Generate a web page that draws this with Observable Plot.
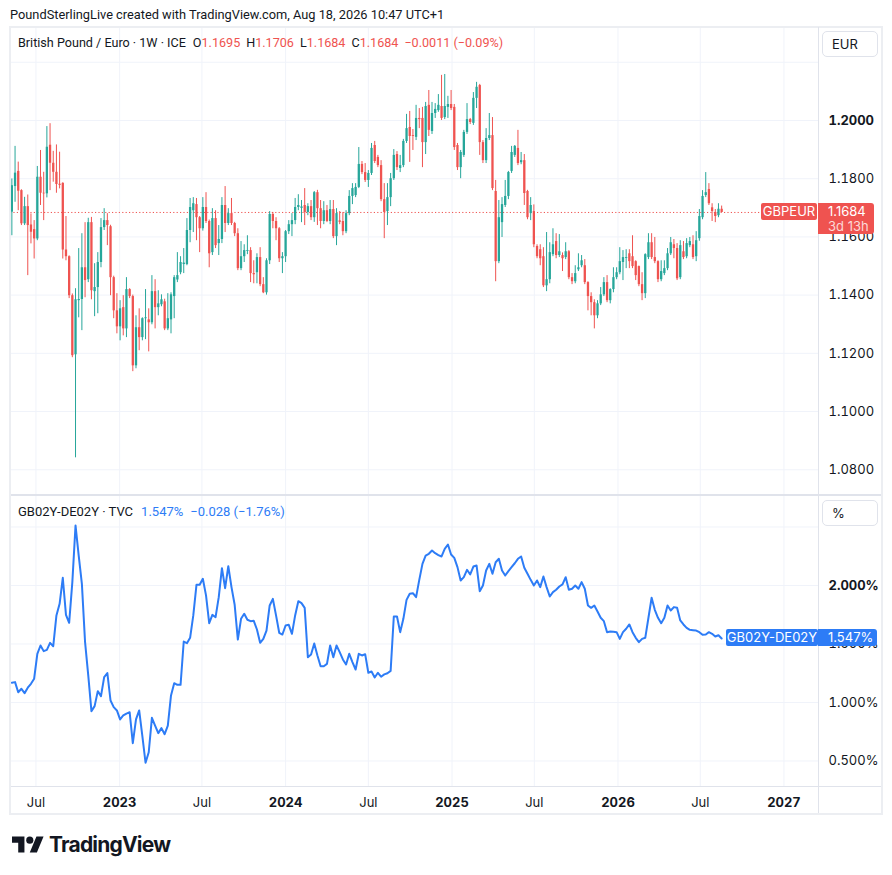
<!DOCTYPE html>
<html><head><meta charset="utf-8">
<script src="https://cdn.jsdelivr.net/npm/d3@7"></script>
<script src="https://cdn.jsdelivr.net/npm/@observablehq/plot@0.6"></script>
<style>
html,body{margin:0;padding:0;background:#fff;}
body{font-family:Roboto,Inter,"Noto Sans",sans-serif;color:#131722;}
#root{position:relative;width:892px;height:875px;overflow:hidden;}
.a{position:absolute;white-space:nowrap;}
.line{position:absolute;background:#e0e3eb;}
.box{position:absolute;border:1px solid #e0e3eb;border-radius:5px;box-sizing:border-box;font-family:Inter,sans-serif;font-size:13px;line-height:24px;padding-left:9px;}
.tag{position:absolute;color:#fff;font-family:Inter,sans-serif;font-size:13px;box-sizing:border-box;}
</style></head><body><div id="root"></div>
<script>
// ---------- data ----------
const firstWeek = "2022-05-09"; // weekly bars (Monday)
const open = [
1.1685,1.1773,1.1825,1.1759,1.1645,1.1704,1.1641,1.1625,1.1593,1.1805,
1.1750,1.1748,1.1915,1.1853,1.1822,1.1781,1.1784,1.1555,1.1532,1.1398,
1.1195,1.1381,1.1385,1.1494,1.1453,1.1649,1.1412,1.1426,1.1512,1.1632,
1.1656,1.1635,1.1460,1.1346,1.1291,1.1357,1.1284,1.1419,1.1395,1.1157,
1.1288,1.1254,1.1319,1.1315,1.1305,1.1412,1.1357,1.1367,1.1377,1.1284,
1.1315,1.1395,1.1452,1.1477,1.1505,1.1505,1.1622,1.1690,1.1711,1.1666,
1.1628,1.1701,1.1653,1.1546,1.1663,1.1577,1.1591,1.1708,1.1646,1.1680,
1.1646,1.1611,1.1491,1.1532,1.1550,1.1553,1.1474,1.1477,1.1529,1.1436,
1.1408,1.1518,1.1677,1.1653,1.1628,1.1525,1.1532,1.1618,1.1642,1.1656,
1.1701,1.1698,1.1708,1.1684,1.1704,1.1666,1.1752,1.1697,1.1653,1.1690,
1.1653,1.1694,1.1601,1.1655,1.1653,1.1618,1.1680,1.1739,1.1742,1.1770,
1.1849,1.1821,1.1794,1.1818,1.1914,1.1873,1.1845,1.1728,1.1687,1.1735,
1.1800,1.1883,1.1835,1.1845,1.1928,1.1976,1.1948,1.1942,1.2007,1.2007,
1.1924,1.2052,1.1962,1.2024,1.2034,1.2048,1.2010,1.2045,1.2055,1.2045,
1.1914,1.1838,1.1880,1.1959,1.2003,1.1990,1.2076,1.2120,1.1924,1.1862,
1.1938,1.1948,1.1756,1.1515,1.1649,1.1708,1.1739,1.1825,1.1880,1.1904,
1.1855,1.1862,1.1756,1.1680,1.1687,1.1567,1.1556,1.1532,1.1432,1.1453,
1.1539,1.1584,1.1536,1.1536,1.1529,1.1549,1.1460,1.1446,1.1487,1.1501,
1.1501,1.1443,1.1395,1.1374,1.1329,1.1370,1.1401,1.1443,1.1381,1.1419,
1.1460,1.1477,1.1512,1.1526,1.1542,1.1532,1.1515,1.1498,1.1436,1.1405,
1.1529,1.1580,1.1529,1.1515,1.1453,1.1474,1.1491,1.1542,1.1573,1.1560,
1.1460,1.1549,1.1532,1.1570,1.1573,1.1532,1.1594,1.1666,1.1742,1.1763,
1.1700,1.1684,1.1673,1.1695];
const high = [
1.1799,1.1911,1.1857,1.1762,1.1736,1.1744,1.1679,1.1656,1.1842,1.1897,
1.1822,1.1979,1.1989,1.1894,1.1916,1.1891,1.1786,1.1670,1.1535,1.1404,
1.1422,1.1560,1.1611,1.1649,1.1664,1.1667,1.1508,1.1546,1.1663,1.1697,
1.1680,1.1640,1.1465,1.1405,1.1381,1.1398,1.1460,1.1422,1.1400,1.1329,
1.1353,1.1322,1.1419,1.1353,1.1467,1.1453,1.1415,1.1401,1.1386,1.1405,
1.1408,1.1467,1.1546,1.1532,1.1560,1.1663,1.1732,1.1735,1.1732,1.1670,
1.1735,1.1752,1.1658,1.1697,1.1690,1.1639,1.1735,1.1773,1.1697,1.1732,
1.1650,1.1628,1.1584,1.1573,1.1604,1.1563,1.1518,1.1542,1.1563,1.1460,
1.1525,1.1687,1.1684,1.1666,1.1632,1.1546,1.1622,1.1656,1.1680,1.1732,
1.1745,1.1725,1.1766,1.1714,1.1725,1.1756,1.1760,1.1725,1.1721,1.1708,
1.1725,1.1725,1.1697,1.1687,1.1684,1.1690,1.1759,1.1783,1.1783,1.1907,
1.1859,1.1852,1.1828,1.1921,1.1928,1.1880,1.1862,1.1783,1.1783,1.1818,
1.1900,1.1893,1.1880,1.1935,1.2021,1.2031,1.1969,1.2052,1.2041,1.2045,
1.2062,1.2103,1.2062,1.2058,1.2089,1.2155,1.2158,1.2083,1.2103,1.2055,
1.1921,1.1897,1.1966,1.2058,1.2007,1.2096,1.2131,1.2124,1.1931,1.1972,
1.2024,1.2010,1.1794,1.1725,1.1735,1.1794,1.1825,1.1911,1.1914,1.1966,
1.1890,1.1883,1.1760,1.1735,1.1710,1.1573,1.1573,1.1563,1.1615,1.1580,
1.1628,1.1611,1.1608,1.1545,1.1580,1.1553,1.1474,1.1501,1.1542,1.1536,
1.1522,1.1446,1.1408,1.1384,1.1381,1.1426,1.1460,1.1467,1.1422,1.1494,
1.1494,1.1563,1.1553,1.1556,1.1556,1.1604,1.1518,1.1500,1.1477,1.1542,
1.1611,1.1611,1.1598,1.1518,1.1518,1.1518,1.1560,1.1598,1.1591,1.1577,
1.1587,1.1584,1.1594,1.1598,1.1604,1.1618,1.1694,1.1759,1.1821,1.1783,
1.1714,1.1694,1.1714,1.1706];
const low = [
1.1604,1.1719,1.1690,1.1639,1.1639,1.1467,1.1576,1.1524,1.1587,1.1708,
1.1656,1.1734,1.1759,1.1788,1.1750,1.1765,1.1524,1.1518,1.1388,1.1185,
1.0841,1.1322,1.1278,1.1391,1.1443,1.1384,1.1326,1.1336,1.1494,1.1622,
1.1570,1.1398,1.1319,1.1267,1.1243,1.1260,1.1254,1.1388,1.1137,1.1147,
1.1209,1.1243,1.1247,1.1205,1.1298,1.1284,1.1329,1.1360,1.1278,1.1278,
1.1267,1.1319,1.1443,1.1470,1.1474,1.1501,1.1580,1.1615,1.1587,1.1546,
1.1620,1.1646,1.1494,1.1536,1.1560,1.1536,1.1577,1.1615,1.1639,1.1639,
1.1601,1.1484,1.1484,1.1512,1.1539,1.1443,1.1439,1.1439,1.1429,1.1405,
1.1400,1.1505,1.1628,1.1587,1.1512,1.1474,1.1512,1.1608,1.1601,1.1642,
1.1690,1.1649,1.1639,1.1673,1.1656,1.1650,1.1639,1.1628,1.1642,1.1649,
1.1642,1.1594,1.1570,1.1642,1.1604,1.1611,1.1673,1.1711,1.1735,1.1766,
1.1814,1.1787,1.1770,1.1811,1.1852,1.1838,1.1721,1.1594,1.1639,1.1704,
1.1794,1.1828,1.1821,1.1838,1.1921,1.1856,1.1897,1.1931,1.1972,1.1838,
1.1883,1.1945,1.1952,1.2007,1.2028,1.2000,1.2003,1.2007,1.2034,1.1897,
1.1828,1.1800,1.1873,1.1952,1.1986,1.1983,1.2041,1.1880,1.1852,1.1852,
1.1931,1.1759,1.1446,1.1508,1.1598,1.1701,1.1728,1.1818,1.1873,1.1845,
1.1848,1.1708,1.1659,1.1656,1.1563,1.1525,1.1501,1.1426,1.1412,1.1439,
1.1532,1.1525,1.1529,1.1481,1.1522,1.1453,1.1436,1.1439,1.1481,1.1494,
1.1436,1.1346,1.1329,1.1284,1.1319,1.1364,1.1395,1.1374,1.1370,1.1408,
1.1453,1.1470,1.1450,1.1491,1.1491,1.1491,1.1450,1.1429,1.1381,1.1388,
1.1522,1.1522,1.1508,1.1443,1.1446,1.1467,1.1484,1.1536,1.1525,1.1450,
1.1453,1.1522,1.1525,1.1563,1.1522,1.1515,1.1585,1.1659,1.1735,1.1708,
1.1653,1.1649,1.1666,1.1684];
const close = [
1.1776,1.1819,1.1757,1.1645,1.1704,1.1639,1.1616,1.1593,1.1805,1.1750,
1.1748,1.1908,1.1853,1.1822,1.1780,1.1777,1.1555,1.1532,1.1398,1.1192,
1.1384,1.1385,1.1494,1.1450,1.1649,1.1415,1.1426,1.1512,1.1632,1.1656,
1.1639,1.1460,1.1346,1.1291,1.1353,1.1284,1.1419,1.1395,1.1157,1.1288,
1.1254,1.1319,1.1322,1.1305,1.1412,1.1357,1.1370,1.1384,1.1284,1.1319,
1.1401,1.1460,1.1467,1.1512,1.1510,1.1622,1.1701,1.1714,1.1666,1.1628,
1.1701,1.1653,1.1542,1.1663,1.1570,1.1591,1.1708,1.1646,1.1680,1.1646,
1.1611,1.1491,1.1532,1.1553,1.1553,1.1474,1.1470,1.1529,1.1436,1.1408,
1.1518,1.1677,1.1653,1.1628,1.1525,1.1532,1.1618,1.1642,1.1656,1.1701,
1.1708,1.1703,1.1684,1.1704,1.1666,1.1752,1.1697,1.1653,1.1690,1.1653,
1.1694,1.1601,1.1680,1.1650,1.1618,1.1680,1.1739,1.1766,1.1770,1.1849,
1.1821,1.1794,1.1818,1.1904,1.1859,1.1845,1.1728,1.1684,1.1735,1.1800,
1.1880,1.1838,1.1845,1.1928,1.1972,1.1945,1.1945,1.2007,1.2003,1.1924,
1.2048,1.1966,1.2024,1.2038,1.2052,1.2007,1.2048,1.2055,1.2041,1.1907,
1.1838,1.1890,1.1959,1.2003,1.1993,1.2076,1.2114,1.1924,1.1862,1.1938,
1.1948,1.1766,1.1515,1.1666,1.1711,1.1739,1.1821,1.1890,1.1911,1.1852,
1.1862,1.1749,1.1666,1.1708,1.1573,1.1532,1.1525,1.1432,1.1453,1.1546,
1.1573,1.1536,1.1549,1.1525,1.1549,1.1460,1.1446,1.1474,1.1494,1.1518,
1.1443,1.1395,1.1374,1.1329,1.1370,1.1401,1.1443,1.1381,1.1419,1.1460,
1.1477,1.1515,1.1529,1.1529,1.1515,1.1498,1.1467,1.1436,1.1405,1.1539,
1.1580,1.1529,1.1515,1.1453,1.1481,1.1491,1.1542,1.1580,1.1560,1.1456,
1.1570,1.1529,1.1577,1.1584,1.1529,1.1587,1.1670,1.1739,1.1752,1.1714,
1.1687,1.1670,1.1695,1.1684];
// GB02Y-DE02Y spread, %, weekly
const spread = [
1.168,1.174,1.088,1.117,1.080,1.126,1.160,1.203,1.416,1.487,
1.439,1.450,1.510,1.481,1.744,1.843,2.066,1.749,1.681,2.029,
2.513,2.256,2.014,1.516,1.231,0.926,0.969,1.097,1.054,1.217,
1.251,1.017,0.960,0.932,0.855,0.889,0.905,0.917,0.652,0.855,
0.932,0.712,0.485,0.575,0.869,0.803,0.738,0.781,0.729,0.803,
1.060,1.165,1.151,1.151,1.521,1.507,1.553,1.744,2.006,2.006,
2.057,1.915,1.678,1.749,1.729,1.900,2.148,1.977,2.165,1.986,
1.835,1.538,1.715,1.758,1.707,1.695,1.698,1.624,1.510,1.544,
1.615,1.829,1.886,1.744,1.596,1.581,1.658,1.664,1.587,1.744,
1.866,1.849,1.809,1.387,1.410,1.504,1.402,1.310,1.310,1.330,
1.487,1.387,1.487,1.430,1.368,1.325,1.416,1.345,1.282,1.416,
1.402,1.413,1.254,1.265,1.214,1.254,1.220,1.240,1.250,1.270,
1.735,1.735,1.601,1.715,1.877,1.929,1.934,1.900,2.048,2.185,
2.256,2.271,2.299,2.276,2.260,2.248,2.313,2.350,2.265,2.236,
2.157,2.043,2.071,2.134,2.094,2.162,2.171,1.951,2.000,2.128,
2.185,2.100,2.199,2.228,2.128,2.085,2.123,2.157,2.190,2.228,
2.248,2.151,2.100,2.048,2.000,2.043,1.986,2.077,1.986,1.906,
1.943,1.963,1.991,2.009,2.071,1.963,1.972,2.000,1.972,2.029,
1.972,1.829,1.809,1.829,1.778,1.724,1.695,1.601,1.607,1.605,
1.601,1.544,1.601,1.630,1.667,1.601,1.553,1.516,1.544,1.553,
1.724,1.895,1.792,1.724,1.678,1.724,1.829,1.786,1.815,1.809,
1.701,1.667,1.638,1.621,1.618,1.615,1.601,1.578,1.581,1.601,
1.587,1.564,1.575,1.547];
const priceTicks = [1.08, 1.10, 1.12, 1.14, 1.16, 1.18, 1.20];
const priceGrid = [1.08, 1.10, 1.12, 1.14, 1.16, 1.18, 1.20, 1.22];
const boldPriceTicks = [1.20];
const spreadTicks = [0.5, 1.0, 1.5, 2.0];
const spreadGrid = [0.5, 1.0, 1.5, 2.0, 2.5];
const boldSpreadTicks = [2.0];
const julyTicks = ["2022-07-01", "2023-07-01", "2024-07-01", "2025-07-01", "2026-07-01"];
const yearTicks = ["2023-01-01", "2024-01-01", "2025-01-01", "2026-01-01", "2027-01-01"];
const xDomain = ["2022-05-06", "2027-03-18"];
const headerText = "PoundSterlingLive created with TradingView.com, Aug 18, 2026 10:47 UTC+1";
const title1 = "British Pound / Euro · 1W · ICE";
const title2 = "GB02Y-DE02Y · TVC";
const change1 = "−0.0011 (−0.09%)";
const change2 = "−0.028 (−1.76%)";
const symbol1 = "GBPEUR", symbol2 = "GB02Y-DE02Y", countdown = "3d 13h";

(function () {
// ---------- colours ----------
const UP = "#26a69a", DOWN = "#ef5350", BLUE = "#2d7cf6", GRID = "#f0f3fa";

const start = new Date(firstWeek + "T00:00:00Z");
const dates = open.map((_, i) => d3.utcDay.offset(start, 7 * i));
const bars = open.map((o, i) => ({date: dates[i], open: o, high: high[i], low: low[i], close: close[i],
  color: close[i] >= o ? UP : DOWN}));
const spreadData = spread.map((v, i) => ({date: dates[i], value: v}));
const toDate = s => new Date(s + "T00:00:00Z");
const jul = julyTicks.map(toDate), yrs = yearTicks.map(toDate);
const allX = [...jul, ...yrs];
const xOpt = {type: "utc", domain: xDomain.map(toDate), axis: null};
const fmt4 = d3.format(".4f");
const fmtPct = d => d3.format(".3f")(d) + "%";
const last = bars[bars.length - 1];
const lastSpread = spread[spread.length - 1];
const styleObj = {fontFamily: "Inter, 'Noto Sans', sans-serif", fontSize: "13px", color: "#131722", background: "transparent", overflow: "visible"};

const topChart = Plot.plot({
  width: 870, height: 466, marginLeft: 0, marginRight: 62, marginTop: 0, marginBottom: 0,
  x: xOpt, y: {domain: [1.0715, 1.2316], axis: null}, style: styleObj,
  marks: [
    Plot.ruleX(allX, {stroke: GRID}),
    Plot.ruleY(priceGrid, {stroke: GRID}),
    Plot.ruleY([last.close], {stroke: DOWN, strokeDasharray: "1.2,2.2", strokeWidth: 1}),
    Plot.ruleX(bars, {x: "date", y1: "low", y2: "high", stroke: "color", strokeWidth: 1}),
    Plot.ruleX(bars, {x: "date", y1: "open", y2: "close", stroke: "color", strokeWidth: 2.3}),
    Plot.axisY(priceTicks.filter(t => !boldPriceTicks.includes(t)), {anchor: "right", tickSize: 0, tickPadding: 10, tickFormat: fmt4, label: null}),
    Plot.axisY(boldPriceTicks, {anchor: "right", tickSize: 0, tickPadding: 10, tickFormat: fmt4, label: null, fontWeight: "bold"})
  ]
});

const bottomChart = Plot.plot({
  width: 870, height: 320, marginLeft: 0, marginRight: 62, marginTop: 0, marginBottom: 28,
  x: xOpt, y: {domain: [0.2735, 2.769], axis: null}, style: styleObj,
  marks: [
    Plot.ruleX(allX, {stroke: GRID}),
    Plot.ruleY(spreadGrid, {stroke: GRID}),
    Plot.lineY(spreadData, {x: "date", y: "value", stroke: BLUE, strokeWidth: 2}),
    Plot.axisY(spreadTicks.filter(t => !boldSpreadTicks.includes(t)), {anchor: "right", tickSize: 0, tickPadding: 10, tickFormat: fmtPct, label: null}),
    Plot.axisY(boldSpreadTicks, {anchor: "right", tickSize: 0, tickPadding: 10, tickFormat: fmtPct, label: null, fontWeight: "bold"}),
    Plot.axisX(jul, {anchor: "bottom", tickSize: 0, tickPadding: 10, tickFormat: d3.utcFormat("%b"), label: null}),
    Plot.axisX(yrs, {anchor: "bottom", tickSize: 0, tickPadding: 10, tickFormat: d3.utcFormat("%Y"), label: null, fontWeight: "bold"})
  ]
});

const root = document.getElementById("root");
function el(tag, cls, css, html) {
  const e = document.createElement(tag);
  if (cls) e.className = cls;
  Object.assign(e.style, css);
  if (html !== undefined) e.innerHTML = html;
  root.appendChild(e);
  return e;
}
const TOP_Y = 28, BOT_Y = 495, LEFT_X = 10;
topChart.style.position = "absolute"; topChart.style.left = LEFT_X + "px"; topChart.style.top = TOP_Y + "px";
bottomChart.style.position = "absolute"; bottomChart.style.left = LEFT_X + "px"; bottomChart.style.top = BOT_Y + "px";
root.appendChild(topChart); root.appendChild(bottomChart);

// frame and separators
el("div", "", {position: "absolute", left: "9px", top: "25.5px", width: "874px", height: "789px", border: "2px solid #eceef2", boxSizing: "border-box"});
el("div", "line", {left: "11px", top: "494px", width: "870px", height: "2px"});
el("div", "line", {left: "11px", top: "786px", width: "870px", height: "1px"});
el("div", "line", {left: "817.5px", top: "27px", width: "1px", height: "786px"});

// header
el("div", "a", {left: "10px", top: "6px", fontSize: "12.8px", lineHeight: "18px", color: "#131722"}, headerText);

// legends
el("div", "a", {left: "18px", top: "34px", fontSize: "12.6px", lineHeight: "18px", color: "#131722"},
  `${title1}<span style="margin-left:7px">O</span><span style="color:${DOWN}">${fmt4(last.open)}</span>` +
  `<span style="margin-left:6px">H</span><span style="color:${DOWN}">${fmt4(last.high)}</span>` +
  `<span style="margin-left:6px">L</span><span style="color:${DOWN}">${fmt4(last.low)}</span>` +
  `<span style="margin-left:6px">C</span><span style="color:${DOWN}">${fmt4(last.close)}</span>` +
  `<span style="margin-left:6px;color:${DOWN}">${change1}</span>`);
el("div", "a", {left: "18px", top: "502.5px", fontSize: "13px", lineHeight: "18px", color: "#131722"},
  `${title2}<span style="margin-left:8px;color:${BLUE}">${fmtPct(lastSpread)}</span>` +
  `<span style="margin-left:7px;color:${BLUE}">${change2}</span>`);

// unit boxes
el("div", "box", {left: "822px", top: "31px", width: "56px", height: "26px"}, "EUR");
el("div", "box", {left: "822px", top: "500px", width: "56px", height: "26px"}, "%");

// price tags positioned with the scales
const yTop = TOP_Y + topChart.scale("y").apply(last.close);
el("div", "tag", {left: "761px", top: (yTop - 8.5) + "px", width: "56px", height: "17px", background: DOWN,
  borderRadius: "2px", lineHeight: "17px", textAlign: "center"}, symbol1);
el("div", "tag", {left: "818px", top: (yTop - 8.5) + "px", width: "56px", height: "31px", background: DOWN,
  borderRadius: "0 3px 3px 0", paddingLeft: "10px", lineHeight: "15px", paddingTop: "1px"},
  `${fmt4(last.close)}<br><span style="color:rgba(255,255,255,0.78)">${countdown}</span>`);
const yBot = BOT_Y + bottomChart.scale("y").apply(lastSpread);
el("div", "tag", {left: "726px", top: (yBot - 8.5) + "px", width: "92px", height: "17px", background: BLUE,
  borderRadius: "2px", lineHeight: "17px", textAlign: "center"}, symbol2);
el("div", "tag", {left: "818px", top: (yBot - 8.5) + "px", width: "59px", height: "17px", background: BLUE,
  borderRadius: "0 3px 3px 0", lineHeight: "17px", paddingLeft: "10px"}, fmtPct(lastSpread));

// TradingView logo
el("div", "a", {left: "12px", top: "833.4px"},
  `<svg width="32" height="25" viewBox="0 0 36 28"><path d="M14 22H7V11H0V4h14v18zM28 22h-8l7.5-18h8L28 22z" fill="#131722"/><circle cx="20" cy="8" r="4" fill="#131722"/></svg>`);
el("div", "a", {left: "49px", top: "834px", fontFamily: "Inter, sans-serif", fontSize: "21px", lineHeight: "22px", fontWeight: "700", letterSpacing: "-0.8px", color: "#131722"}, "TradingView");
})();
</script></body></html>
